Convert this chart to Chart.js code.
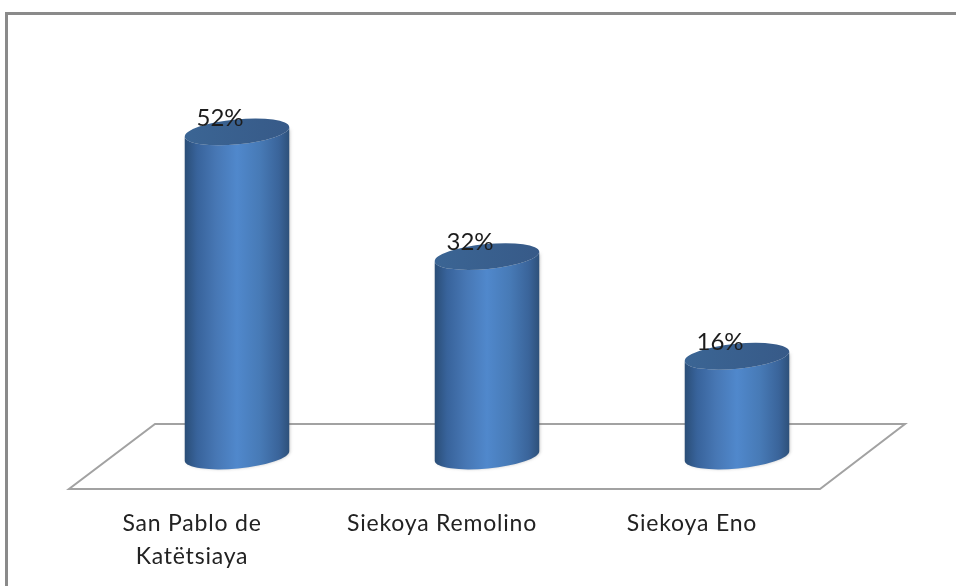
<!DOCTYPE html>
<html><head><meta charset="utf-8">
<style>html,body{margin:0;padding:0;background:#fff}#w{width:956px;height:586px;position:relative}</style>
<script src="https://cdn.jsdelivr.net/npm/chart.js@4"></script>
</head><body><div id="w"><canvas id="c" width="956" height="586"></canvas></div>
<script>
const categories = [["San Pablo de","Katëtsiaya"],"Siekoya Remolino","Siekoya Eno"];
const percentValues = [52,32,16];
const dataLabels = ["52%","32%","16%"];

function shade(ctx,l,r){
  const g=ctx.createLinearGradient(l,0,r,0);
  g.addColorStop(0,"#2a4d76");g.addColorStop(0.12,"#38639b");g.addColorStop(0.3,"#4777b4");
  g.addColorStop(0.5,"#5088cc");g.addColorStop(0.72,"#477ab6");g.addColorStop(0.9,"#3a649a");g.addColorStop(1,"#2d5079");
  return g;
}
const tilt=-0.095, RY=12.5;
const scene={
  id:"scene",
  beforeDraw(ch){ ch.ctx.letterSpacing="0.8px"; },
  beforeDatasetsDraw(ch){
    const c=ch.ctx,a=ch.chartArea;
    c.save();
    c.strokeStyle="#8a8a8a";c.lineWidth=3;
    c.strokeRect(6.5,13.5,960,600);
    c.strokeStyle="#a2a2a2";c.lineWidth=2;c.lineJoin="miter";
    c.beginPath();
    c.moveTo(a.left+43,a.bottom-32);c.lineTo(a.right+43,a.bottom-32);
    c.lineTo(a.right-42,a.bottom+33);c.lineTo(a.left-43,a.bottom+33);c.closePath();c.stroke();
    c.restore();
  },
  afterDatasetsDraw(ch){
    const c=ch.ctx,m=ch.getDatasetMeta(0);
    m.data.forEach((b,i)=>{
      const w=b.width,l=b.x-w/2,r=b.x+w/2,bs=b.base,t=b.y;
      c.save();
      c.shadowColor="rgba(90,90,90,.3)";c.shadowBlur=3;c.shadowOffsetX=1;c.shadowOffsetY=0;
      c.fillStyle=shade(c,l,r);
      c.beginPath();
      c.ellipse(b.x,t,w/2,RY,tilt,Math.PI,0,true);
      c.ellipse(b.x,bs,w/2,RY,tilt,0,Math.PI,false);
      c.closePath();c.fill();
      c.shadowColor="transparent";
      c.beginPath();c.ellipse(b.x,t,w/2,RY,tilt,0,Math.PI*2);
      const g=c.createLinearGradient(l,0,r,0);
      g.addColorStop(0,"#3b6594");g.addColorStop(1,"#375a88");
      c.fillStyle=g;c.fill();
      c.letterSpacing="0px";
      c.fillStyle="#1c1c1c";c.font="24px Lato, 'Open Sans', sans-serif";
      c.textAlign="center";c.textBaseline="middle";
      c.fillText(dataLabels[i],b.x-17,t-14);
      c.restore();
    });
  }
};
new Chart(document.getElementById("c"),{
  type:"bar",
  data:{labels:categories,datasets:[{data:percentValues,backgroundColor:"rgba(0,0,0,0)",borderWidth:0,barPercentage:0.42,categoryPercentage:1}]},
  options:{
    responsive:false,animation:false,
    layout:{padding:{left:112,right:94,top:82,bottom:0}},
    plugins:{legend:{display:false},tooltip:{enabled:false}},
    scales:{
      x:{grid:{display:false},border:{display:false},
         afterFit(s){s.height=130;},
         ticks:{color:"#222",padding:43,labelOffset:-45,maxRotation:0,autoSkip:false,font:{family:"Lato, 'Open Sans', sans-serif",size:23,lineHeight:1.43}}},
      y:{display:false,min:0,max:60}
    }
  },
  plugins:[scene]
});
</script></body></html>
